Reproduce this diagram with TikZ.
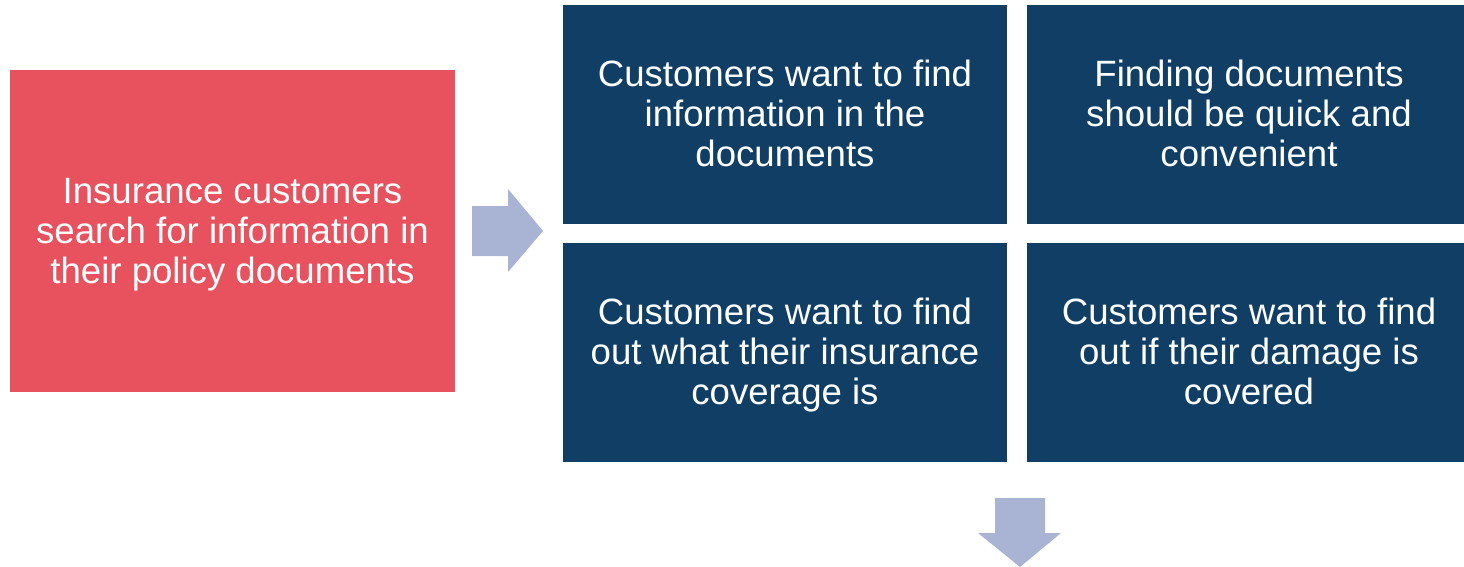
\documentclass[tikz,border=0pt]{standalone}
\usepackage{fontspec}
\setmainfont{Liberation Sans}
\usetikzlibrary{calc, positioning}
\definecolor{issuered}{RGB}{232, 82, 94}
\definecolor{needblue}{RGB}{16, 62, 100}
\definecolor{flowblue}{RGB}{169, 180, 212}

\begin{document}
\begin{tikzpicture}
			[x=1pt, y=-1pt,
			box/.style={inner sep=0pt, outer sep=0pt, align=center, text=white,
				text height=112pt, text depth=8pt,
				font=\fontsize{36.6}{40}\selectfont},
			issue/.style={box, fill=issuered, minimum width=445pt, minimum height=322pt},
			need/.style={box, fill=needblue, minimum width=444pt, minimum height=219pt},
			flow/.style={fill=flowblue}]
			\useasboundingbox (0,0) rectangle (1464,567);
			\clip (0,0) rectangle (1464,567);
			
			\node[issue] (search) at (232.5,231) {Insurance customers\\search for information in\\their policy documents};
			
			\node[need, anchor=north west] (find) at (563,5) {Customers want to find\\information in the\\documents};
			\node[need, right= 20pt of find] (quick) {Finding documents\\should be quick and\\convenient};
			\node[need, below= 19pt of find] (coverage) {Customers want to find\\out what their insurance\\coverage is};
			\node[need, below= 19pt of quick] (damage) {Customers want to find\\out if their damage is\\covered};
			
			% block arrows
			\fill[flow] ($(search.east) + (17,-25)$) -- ++(36,0) -- ++(0,-17) -- ++(35,42)
				-- ++(-35,41) -- ++(0,-16) -- ++(-36,0) -- cycle;
			\fill[flow] ($(damage.south west) + (-7,36)$) -- ++(25,0) -- ++(0,35) -- ++(16,0)
				-- ++(-41,34) -- ++(-42,-34) -- ++(17,0) -- ++(0,-35) -- cycle;
			\end{tikzpicture}
\end{document}
